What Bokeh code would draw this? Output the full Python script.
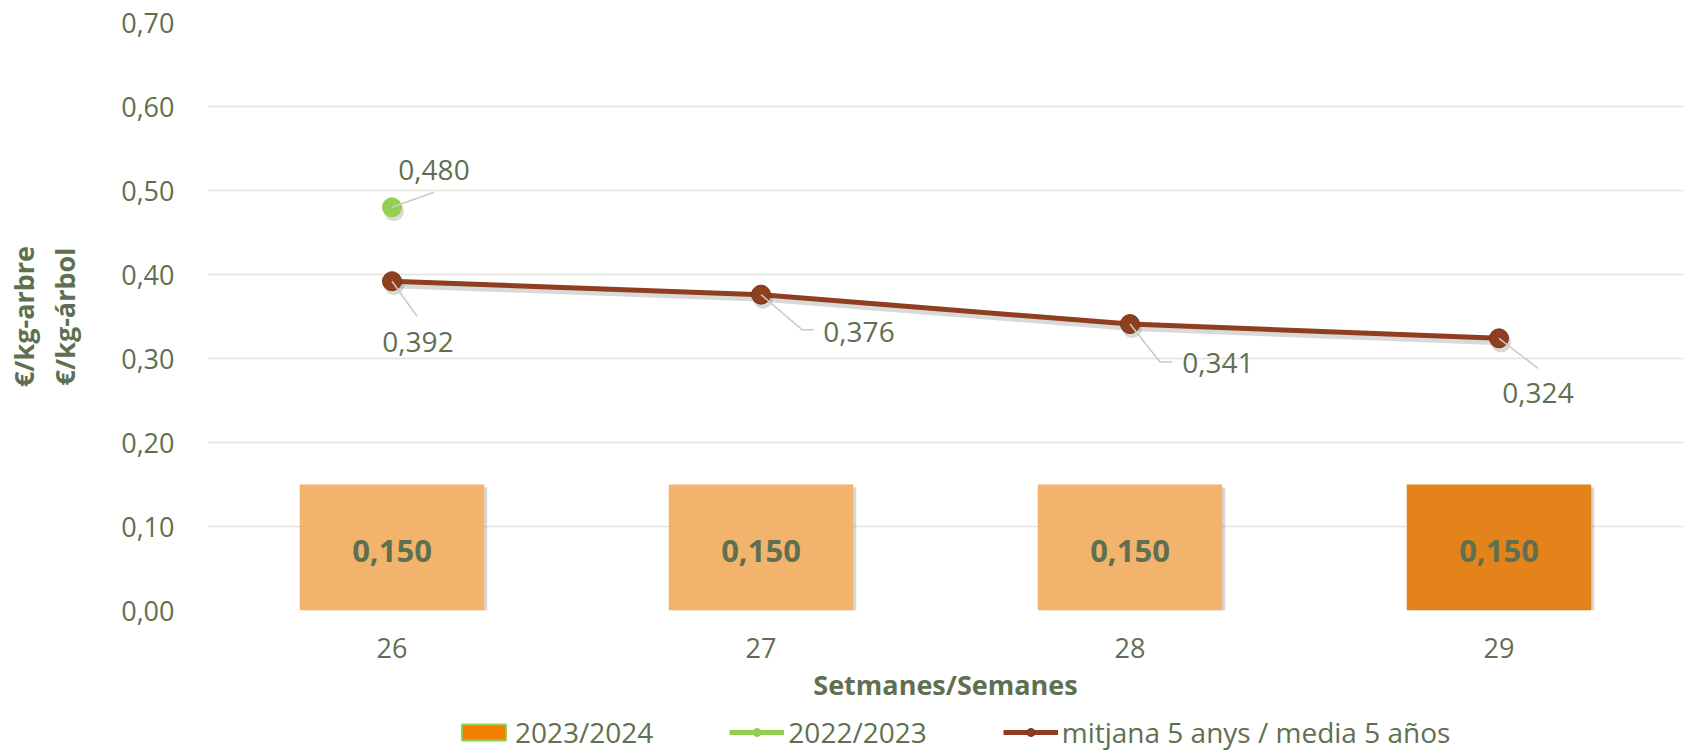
from bokeh.plotting import figure
from bokeh.layouts import column
from bokeh.models import (ColumnDataSource, FixedTicker, CustomJSTickFormatter,
                          Legend, LegendItem, Range1d)
from bokeh.core.properties import value
from bokeh.embed import file_html
from bokeh.resources import INLINE

# ---------------- data ----------------
weeks = [26, 27, 28, 29]
week_labels = ["26", "27", "28", "29"]
season_2023_2024 = [0.150, 0.150, 0.150, 0.150]
season_2022_2023_weeks = [26]
season_2022_2023 = [0.480]
avg_5_years = [0.392, 0.376, 0.341, 0.324]
y_ticks = [0.0, 0.1, 0.2, 0.3, 0.4, 0.5, 0.6, 0.7]
y_tick_labels = ["0,00", "0,10", "0,20", "0,30", "0,40", "0,50", "0,60", "0,70"]
series_names = ["2023/2024", "2022/2023", "mitjana 5 anys / media 5 años"]
x_title = "Setmanes/Semanes"
y_title = "€/kg-arbre\n€/kg-árbol"

# ---------------- style ----------------
TXT = "#5F7050"
FONT = "Open Sans"
BAR_COLORS = ["#F2B46D", "#F2B46D", "#F2B46D", "#E3831A"]
LEGEND_BAR = "#F07F00"
BROWN = "#8F3E1F"
GREEN = "#92D050"
LEADER = "#C8CEBE"
GRID = "#E3E3DC"

W, H, HL = 1688, 710, 41
BL, BR, BT, BB = 207, 5, 22, 100
X0, X1 = 25.5, 29.5
Y0, Y1 = 0.0, 0.7
PPX = (W - BL - BR) / (X1 - X0)
PPY = (H - BT - BB) / (Y1 - Y0)

LOOKUP_JS = """
let best = -1, d = 1e9;
for (let i = 0; i < tvals.length; i++) { const e = Math.abs(tvals[i] - tick); if (e < d) { d = e; best = i; } }
return (best >= 0 && d < 1e-6) ? tlabels[best] : "";
"""


def fmt(v):
    return f"{v:.3f}".replace(".", ",")


p = figure(width=W, height=H, x_range=Range1d(X0, X1), y_range=Range1d(Y0, Y1),
           output_backend="svg", toolbar_location=None,
           min_border_left=BL, min_border_right=BR, min_border_top=BT,
           min_border_bottom=BB)
p.outline_line_color = None
p.background_fill_color = "white"
p.border_fill_color = "white"

# axes
p.yaxis.ticker = FixedTicker(ticks=y_ticks)
p.yaxis.formatter = CustomJSTickFormatter(args=dict(tvals=y_ticks, tlabels=y_tick_labels),
                                          code=LOOKUP_JS)
p.xaxis.ticker = FixedTicker(ticks=weeks)
p.xaxis.formatter = CustomJSTickFormatter(args=dict(tvals=weeks, tlabels=week_labels),
                                          code=LOOKUP_JS)
for ax in (p.xaxis, p.yaxis):
    ax.axis_line_color = None
    ax.major_tick_line_color = None
    ax.minor_tick_line_color = None
    ax.major_label_text_font = FONT
    ax.major_label_text_font_size = "27px"
    ax.major_label_text_color = TXT
    ax.axis_label_text_font = FONT
    ax.axis_label_text_font_style = "bold"
    ax.axis_label_text_color = TXT

p.yaxis.major_label_standoff = 27
p.yaxis.axis_label = y_title
p.yaxis.axis_label_text_font_size = "27px"
p.yaxis.axis_label_text_line_height = 1.1
p.yaxis.axis_label_standoff = 35

p.xaxis.major_label_standoff = 21
p.xaxis.axis_label = x_title
p.xaxis.axis_label_text_font_size = "27px"
p.xaxis.axis_label_standoff = 5

p.xgrid.grid_line_color = None
p.ygrid.grid_line_color = GRID
p.ygrid.grid_line_width = 1.5

# bars (with a soft drop shadow)
bar_src = ColumnDataSource(dict(x=weeks, top=season_2023_2024, color=BAR_COLORS,
                                mid=[v / 2 for v in season_2023_2024],
                                label=[fmt(v) for v in season_2023_2024]))
p.vbar(x=[x + 3 / PPX for x in weeks], bottom=-3 / PPY,
       top=[v - 3 / PPY for v in season_2023_2024], width=0.5,
       fill_color="#000000", fill_alpha=0.16, line_color=None)
p.vbar(x="x", top="top", width=0.5, source=bar_src, fill_color="color", line_color=None)
p.text(x="x", y="mid", text="label", source=bar_src, text_align="center",
       text_baseline="middle", text_font=value(FONT), text_font_style="bold",
       text_font_size="31px", text_color=TXT, y_offset=3)

# lines (with soft shadows)
p.line([x + 2 / PPX for x in weeks], [v - 4 / PPY for v in avg_5_years],
       line_width=6, line_color="#000000", line_alpha=0.15)
p.scatter([x + 2 / PPX for x in weeks], [v - 4 / PPY for v in avg_5_years], size=20,
          marker="circle", fill_color="#000000", fill_alpha=0.15, line_color=None)
p.scatter([x + 2 / PPX for x in season_2022_2023_weeks],
          [v - 4 / PPY for v in season_2022_2023], size=20,
          marker="circle", fill_color="#000000", fill_alpha=0.15, line_color=None)

p.line(weeks, avg_5_years, line_width=5, line_color=BROWN)
p.scatter(weeks, avg_5_years, size=19, marker="circle",
          fill_color=BROWN, line_color="#7A3418", line_width=1)
p.line(season_2022_2023_weeks, season_2022_2023, line_width=5, line_color=GREEN)
p.scatter(season_2022_2023_weeks, season_2022_2023, size=19, marker="circle",
          fill_color=GREEN, line_color=GREEN)

# data labels with leader lines (offsets in screen pixels: +x right, +y down)
lab_x = season_2022_2023_weeks + weeks
lab_y = season_2022_2023 + avg_5_years
lab_text_off = [(42, -37), (26, 61), (98, 37), (88, 39), (39, 55)]
lab_leader = [[(42, -15)], [(25, 35)], [(41, 35), (53, 35)], [(30, 38), (42, 38)], [(39, 30)]]

xs, ys = [], []
for x, y, pts in zip(lab_x, lab_y, lab_leader):
    xs.append([x] + [x + dx / PPX for dx, dy in pts])
    ys.append([y] + [y - dy / PPY for dx, dy in pts])
p.multi_line(xs, ys, line_color=LEADER, line_width=1.5)

p.text(x=lab_x, y=lab_y, text=[fmt(v) for v in lab_y],
       x_offset=[o[0] for o in lab_text_off], y_offset=[o[1] for o in lab_text_off],
       text_align="center", text_baseline="middle", text_font=value(FONT),
       text_font_size="28px", text_color=TXT)

# ---------------- legend strip (own small figure under the chart) ----------------
q = figure(width=W, height=HL, x_range=Range1d(X0, X1), y_range=Range1d(Y0, Y1),
           output_backend="svg", toolbar_location=None, min_border=0,
           x_axis_location=None, y_axis_location=None)
q.outline_line_color = None
q.xgrid.visible = False
q.ygrid.visible = False
q.border_fill_color = "white"

lg_bar = q.vbar(x=weeks, top=season_2023_2024, width=0.5, fill_color=LEGEND_BAR,
                line_color=GREEN, line_width=2, visible=False)
lg_gl = q.line(season_2022_2023_weeks, season_2022_2023, line_width=5,
               line_color=GREEN, visible=False)
lg_gp = q.scatter(season_2022_2023_weeks, season_2022_2023, size=15, marker="circle",
                  fill_color=GREEN, line_color=GREEN, visible=False)
lg_bl = q.line(weeks, avg_5_years, line_width=5, line_color=BROWN, visible=False)
lg_bp = q.scatter(weeks, avg_5_years, size=15, marker="circle",
                  fill_color=BROWN, line_color="#7A3418", visible=False)

legend = Legend(items=[LegendItem(label=series_names[0], renderers=[lg_bar]),
                       LegendItem(label=series_names[1], renderers=[lg_gl, lg_gp]),
                       LegendItem(label=series_names[2], renderers=[lg_bl, lg_bp])],
                orientation="horizontal", location=(249, 0))
legend.border_line_color = None
legend.background_fill_alpha = 0
legend.padding = 0
legend.margin = 0
legend.spacing = 76
legend.label_standoff = 4
legend.glyph_width = 55
legend.glyph_height = 20
legend.label_text_font = FONT
legend.label_text_font_size = "28px"
legend.label_text_color = TXT
q.add_layout(legend)

layout = column(p, q, spacing=0)
open("out.html", "w").write(file_html(layout, INLINE))
